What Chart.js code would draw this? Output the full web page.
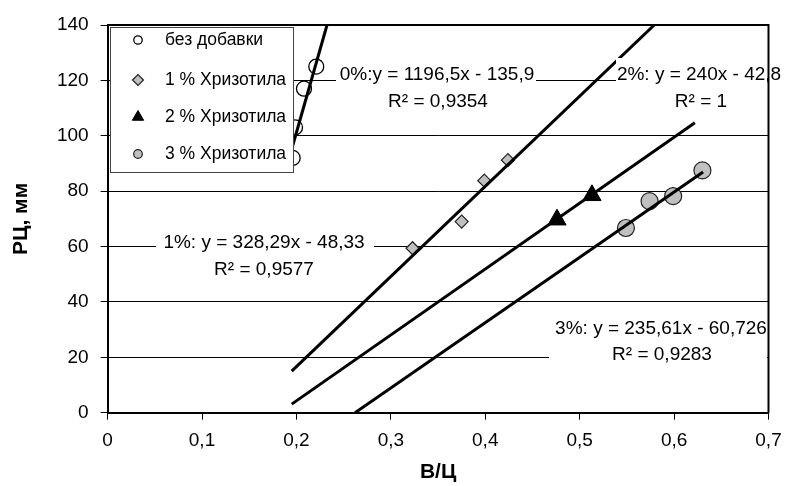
<!DOCTYPE html>
<html><head><meta charset="utf-8">
<script src="https://cdn.jsdelivr.net/npm/chart.js@4.4.0/dist/chart.umd.min.js"></script>
<style>html,body{margin:0;padding:0;background:#fff;}#c{display:block;}</style>
</head><body>
<canvas id="c" width="792" height="486"></canvas>
<script>
// ---- data ----
const seriesNames = ['без добавки', '1 % Хризотила', '2 % Хризотила', '3 % Хризотила'];
const s0X = [0.196, 0.1985, 0.208, 0.221];
const s0Y = [92, 103, 117, 125];
const s1X = [0.323, 0.375, 0.399, 0.424];
const s1Y = [59.4, 69.0, 83.8, 91.2];
const s2X = [0.476, 0.513];
const s2Y = [69.7, 78.5];
const s3X = [0.549, 0.574, 0.599, 0.630];
const s3Y = [66.7, 76.4, 78.2, 87.5];
// trend line end points
const t0X = [0.196, 0.2324], t0Y = [96.4, 140];
const t1X = [0.195, 0.579],  t1Y = [15.0, 140];
const t2X = [0.195, 0.622],  t2Y = [3.1, 104.7];
const t3X = [0.2621, 0.6307], t3Y = [0, 86.9];
const trendLine1 = ['0%:y = 1196,5x - 135,9', '1%: y = 328,29x - 48,33', '2%: y = 240x - 42,8', '3%: y = 235,61x - 60,726'];
const trendLine2 = ['R² = 0,9354', 'R² = 0,9577', 'R² = 1', 'R² = 0,9283'];
const xTickLabels = ['0', '0,1', '0,2', '0,3', '0,4', '0,5', '0,6', '0,7'];
const yTickLabels = ['0', '20', '40', '60', '80', '100', '120', '140'];
const xTitle = 'В/Ц';
const yTitle = 'РЦ, мм';

const pts = (xs, ys) => xs.map((x, i) => ({x: x, y: ys[i]}));
const FAM = '"Liberation Sans", Arial, sans-serif';

// ---- label layout (pixels) ----
const labelBoxes = [
  {box: [336, 61, 200, 53], l1: [437, 75], l2: [438, 102]},
  {box: [156, 229, 218, 55], l1: [264, 243], l2: [264, 270]},
  {box: [616, 58, 170, 56], l1: [699, 75], l2: [701, 102]},
  {box: [549, 314, 222, 54], l1: [661, 329], l2: [662, 355]}
];
const legendBox = {x: 110, y: 27, w: 183, h: 145, mx: 138, tx: 165, rows: [40, 80, 117, 154], radii: [4.2, 5.5, 6.5, 4.3]};

const pointSets = [
  {label: seriesNames[0], data: pts(s0X, s0Y), pointStyle: 'circle', pointRadius: 7.5, backgroundColor: '#ffffff', borderColor: '#000', borderWidth: 1.3},
  {label: seriesNames[1], data: pts(s1X, s1Y), pointStyle: 'rectRot', pointRadius: 6.5, backgroundColor: '#c0c0c0', borderColor: '#222', borderWidth: 1.2},
  {label: seriesNames[2], data: pts(s2X, s2Y), pointStyle: 'triangle', pointRadius: 10.5, backgroundColor: '#000', borderColor: '#000', borderWidth: 1},
  {label: seriesNames[3], data: pts(s3X, s3Y), pointStyle: 'circle', pointRadius: 8.5, backgroundColor: '#c0c0c0', borderColor: '#222', borderWidth: 1.2}
];
pointSets.forEach(d => { d.order = 2; d.pointHoverRadius = d.pointRadius; });

const trendSets = [[t0X, t0Y], [t1X, t1Y], [t2X, t2Y], [t3X, t3Y]].map(t => ({
  label: 'trend', data: pts(t[0], t[1]), showLine: true, pointRadius: 0, borderColor: '#000', borderWidth: 3, order: 1
}));

const overlay = {
  id: 'overlay',
  afterDatasetsDraw(chart) {
    const {ctx, chartArea: a} = chart;
    ctx.save();
    // trend label backgrounds (kept inside the plot frame)
    labelBoxes.forEach(b => {
      const x0 = b.box[0], x1 = Math.min(b.box[0] + b.box[2], a.right - 1.5);
      ctx.fillStyle = '#fff';
      ctx.fillRect(x0, b.box[1], x1 - x0, b.box[3]);
    });
    // plot border top / right
    ctx.strokeStyle = '#000';
    ctx.lineWidth = 2;
    ctx.beginPath();
    ctx.moveTo(a.left, a.top); ctx.lineTo(a.right, a.top); ctx.lineTo(a.right, a.bottom);
    ctx.stroke();
    // trend label texts
    ctx.font = '19px ' + FAM;
    ctx.textAlign = 'center';
    ctx.textBaseline = 'middle';
    ctx.fillStyle = '#000';
    labelBoxes.forEach((b, i) => {
      ctx.fillText(trendLine1[i], b.l1[0], b.l1[1]);
      ctx.fillText(trendLine2[i], b.l2[0], b.l2[1]);
    });
    // legend
    const L = legendBox;
    ctx.fillStyle = '#fff';
    ctx.fillRect(L.x, L.y, L.w, L.h);
    ctx.strokeStyle = '#444';
    ctx.lineWidth = 1;
    ctx.strokeRect(L.x + 0.5, L.y + 0.5, L.w, L.h);
    ctx.font = '17.5px ' + FAM;
    ctx.textAlign = 'left';
    pointSets.forEach((d, i) => {
      ctx.fillStyle = d.backgroundColor;
      ctx.strokeStyle = d.borderColor;
      ctx.lineWidth = d.borderWidth;
      Chart.helpers.drawPoint(ctx, {pointStyle: d.pointStyle, rotation: 0, radius: L.radii[i], borderWidth: d.borderWidth}, L.mx, L.rows[i]);
      ctx.fillStyle = '#000';
      ctx.fillText(d.label, L.tx, L.rows[i]);
    });
    ctx.restore();
  }
};

new Chart(document.getElementById('c'), {
  type: 'scatter',
  data: {datasets: trendSets.concat(pointSets)},
  options: {
    responsive: false,
    animation: false,
    devicePixelRatio: 1,
    layout: {padding: {left: 0, right: 23.5, top: 25, bottom: 0}},
    plugins: {legend: {display: false}, tooltip: {enabled: false}},
    scales: {
      x: {
        type: 'linear', min: 0, max: 0.7,
        ticks: {stepSize: 0.1, autoSkip: false, maxRotation: 0, color: '#000', font: {family: FAM, size: 19}, padding: 10,
          callback: (v, i) => xTickLabels[i]},
        grid: {drawOnChartArea: false, drawTicks: true, tickLength: 7, color: '#000', lineWidth: 1},
        border: {display: true, color: '#000', width: 2},
        title: {display: true, text: xTitle, color: '#000', font: {family: FAM, size: 21, weight: 'bold'}, padding: {top: 0, bottom: 1}},
        afterFit: s => { s.height = 73.3; }
      },
      y: {
        type: 'linear', min: 0, max: 140,
        ticks: {stepSize: 20, color: '#000', font: {family: FAM, size: 19}, padding: 12,
          callback: (v, i) => yTickLabels[i]},
        grid: {color: '#000', lineWidth: 1, tickLength: 7},
        border: {display: true, color: '#000', width: 2},
        title: {display: true, text: yTitle, color: '#000', font: {family: FAM, size: 21, weight: 'bold'}, padding: {top: 9, bottom: 0}},
        afterFit: s => { s.width = 107.6; }
      }
    }
  },
  plugins: [overlay]
});
</script>
</body></html>
